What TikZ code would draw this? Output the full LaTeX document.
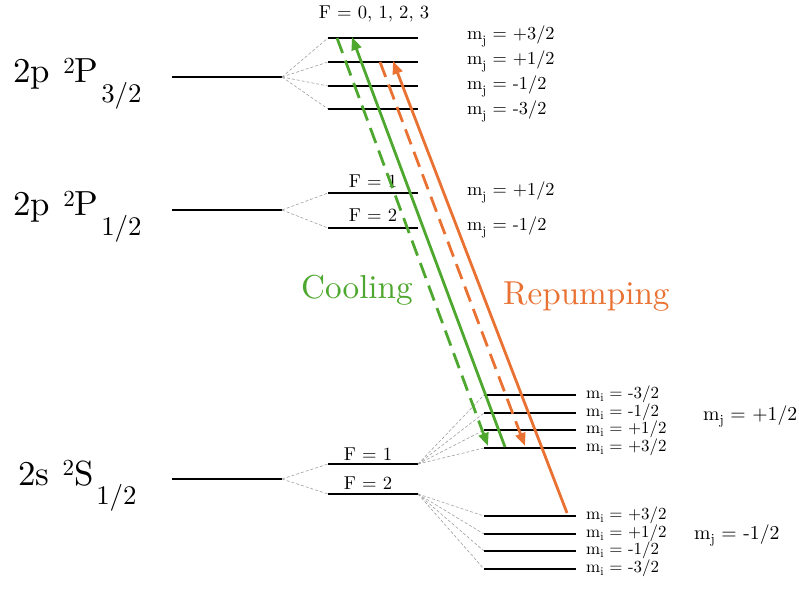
\documentclass[tikz,border=0pt]{standalone}
\usepackage{fontspec}
\setmainfont{lmroman10-regular}[Extension=.otf]
\usetikzlibrary{arrows.meta}
\definecolor{cgreen}{HTML}{4EA72E}
\definecolor{corange}{HTML}{E97132}
\newcommand\mysub[1]{\raisebox{-0.22em}{\scalebox{0.7}{#1}}}
\newcommand\bigsub[1]{\hspace{0.08em}\raisebox{-0.55em}{\scalebox{0.77}{#1}}}
\newcommand\bigsup[1]{\hspace{0.38em}\raisebox{0.27em}{\scalebox{0.66}{#1}}}
\newcommand\mj{m\mysub{j}\ =\ }
\newcommand\mi{m\mysub{i}\ =\ }
\tikzset{
  lvl/.style={line width=1.6bp, black},
  split/.style={gray!75, densely dashed, line width=0.6bp},
  big/.style={font=\fontsize{35}{40}\selectfont, anchor=base west, inner sep=0},
  small/.style={font=\fontsize{18.4}{22}\selectfont, anchor=base west, inner sep=0},
  mid/.style={font=\fontsize{19.8}{24}\selectfont, anchor=base west, inner sep=0},
  tiny/.style={font=\fontsize{17}{20}\selectfont, anchor=base west, inner sep=0},
  flab/.style={font=\fontsize{18.7}{22}\selectfont, anchor=base, inner sep=0},
  beam/.style={line width=2.8bp, -{Triangle[length=13bp,width=10bp]}},
  dbeam/.style={beam, dash pattern=on 16bp off 8bp},
  trans/.style={font=\fontsize{33.3}{38}\selectfont, anchor=base west, inner sep=0},
}
\begin{document}
\begin{tikzpicture}[x=1bp,y=-1bp]
\useasboundingbox (0,0) rectangle (799,592);
% fine-structure levels
\foreach \n/\y in {P3/77,P1/210,S/479}{
  \coordinate (\n L) at (172,\y);
  \coordinate (\n R) at (282,\y);
  \draw[lvl] (\n L) -- (\n R);
}
\node[big] (lP3) at (13,83) {2p\bigsup{2}P\bigsub{3/2}};
\node[big] (lP1) at (13,216) {2p\bigsup{2}P\bigsub{1/2}};
\node[big] (lS) at (18,485) {2s\bigsup{2}S\bigsub{1/2}};
% P3/2 sublevels
\foreach \i/\y in {1/38,2/62,3/86,4/109}{
  \coordinate (a\i L) at (328,\y);
  \coordinate (a\i R) at (418,\y);
  \draw[lvl] (a\i L) -- (a\i R);
  \draw[split] (P3R) -- (a\i L);
}
\node[flab] (f0) at (374,19) {F = 0, 1, 2, 3};
\node[small] (ma1) at (467,40) {\mj+3/2};
\node[small] (ma2) at (467,65) {\mj+1/2};
\node[small] (ma3) at (467,90) {\mj-1/2};
\node[small] (ma4) at (467,115) {\mj-3/2};
% P1/2 sublevels
\foreach \i/\y in {1/193,2/228}{
  \coordinate (b\i L) at (328,\y);
  \coordinate (b\i R) at (418,\y);
  \draw[lvl] (b\i L) -- (b\i R);
  \draw[split] (P1R) -- (b\i L);
}
\node[flab] (fb1) at (373,188) {F = 1};
\node[flab] (fb2) at (373,222) {F = 2};
\node[small] (mb1) at (467,196) {\mj+1/2};
\node[small] (mb2) at (467,231) {\mj-1/2};
% S1/2 hyperfine
\foreach \i/\y in {1/464,2/494}{
  \coordinate (s\i L) at (328,\y);
  \coordinate (s\i R) at (418,\y);
  \draw[lvl] (s\i L) -- (s\i R);
  \draw[split] (SR) -- (s\i L);
}
\node[flab] (fs1) at (368,460) {F = 1};
\node[flab] (fs2) at (368,489) {F = 2};
% Zeeman sublevels
\foreach \i/\y/\t in {1/395/{-3/2},2/413/{-1/2},3/430/{+1/2},4/448/{+3/2}}{
  \coordinate (u\i L) at (484,\y);
  \coordinate (u\i R) at (576,\y);
  \draw[lvl] (u\i L) -- (u\i R);
  \draw[split] (s1R) -- (u\i L);
  \node[tiny] (mu\i) at (586,\y+3) {\mi\t};
}
\foreach \i/\y/\t in {1/516/{+3/2},2/534/{+1/2},3/551/{-1/2},4/569/{-3/2}}{
  \coordinate (d\i L) at (484,\y);
  \coordinate (d\i R) at (576,\y);
  \draw[lvl] (d\i L) -- (d\i R);
  \draw[split] (s2R) -- (d\i L);
  \node[tiny] (md\i) at (586,\y+3) {\mi\t};
}
\node[mid] (mju) at (703,420) {\mj+1/2};
\node[mid] (mjd) at (694,539) {\mj-1/2};
% beams
\coordinate (gs0) at (505,447);
\coordinate (gs1) at (352,37);
\coordinate (gd0) at (337,38);
\coordinate (gd1) at (488,446);
\coordinate (os0) at (567,513);
\coordinate (os1) at (393,61);
\coordinate (od0) at (380,62);
\coordinate (od1) at (525,446);
\draw[beam, cgreen] (gs0) -- (gs1);
\draw[dbeam, cgreen] (gd0) -- (gd1);
\draw[beam, corange] (os0) -- (os1);
\draw[dbeam, corange] (od0) -- (od1);
\node[trans, text=cgreen] (cool) at (301,298) {Cooling};
\node[trans, text=corange] (rep) at (503,304) {Repumping};
\end{tikzpicture}
\end{document}
